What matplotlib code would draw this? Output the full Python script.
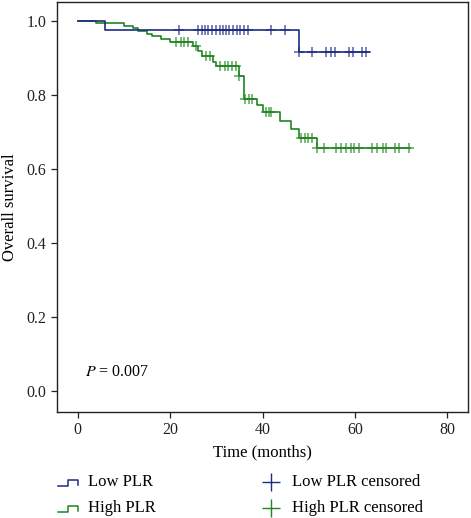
import matplotlib
matplotlib.use('Agg')
import matplotlib.pyplot as plt
import numpy as np
from matplotlib.lines import Line2D

plt.rcParams['font.family'] = ['Liberation Serif', 'DejaVu Serif']

# step curves: (time in months, survival after the drop)
low_times = [0, 6, 48]
low_surv = [1.0, 0.975, 0.915]
low_end = 63.0
low_censored = [22.0, 26.0, 26.8, 27.6, 28.3, 29.1, 29.9, 30.7, 31.4, 32.1, 32.8,
                33.6, 34.4, 35.1, 35.9, 36.8, 41.8, 44.9,
                48.0, 50.8, 53.7, 54.8, 55.7, 58.7, 59.7, 61.6, 62.5]

high_times = [0, 4, 10, 12, 13, 15, 16, 18, 20, 25, 26, 27, 29.2, 30, 35, 35.9,
              38.9, 40.0, 43.8, 46.2, 47.8, 51.7]
high_surv = [1.0, 0.993, 0.986, 0.979, 0.972, 0.964, 0.957, 0.950, 0.942, 0.930,
             0.918, 0.903, 0.889, 0.877, 0.850, 0.789, 0.772, 0.752, 0.729, 0.706,
             0.683, 0.655]
high_end = 72.0
high_censored = [21.3, 22.4, 23.1, 23.8, 25.5, 27.8, 28.6, 30.8, 31.8, 32.6, 33.5,
                 34.3, 35.0, 36.3, 37.0, 37.8, 40.8, 41.3, 41.9, 48.3, 49.2, 49.9,
                 50.7, 51.9, 53.3, 55.9, 57.0, 58.0, 59.1, 59.8, 60.9, 63.8, 64.9,
                 66.0, 66.8, 68.8, 69.5, 71.7]

blue = '#1c2c84'
green = '#1f861f'

W, H = 471, 518
fig = plt.figure(figsize=(W / 100, H / 100), dpi=100)
ax = fig.add_axes([57 / W, 1 - 412 / H, (468 - 57) / W, (412 - 2) / H])


def draw_group(times, surv, end, censored, color):
    xs = list(times) + [end]
    ys = list(surv) + [surv[-1]]
    ax.step(xs, ys, where='post', color=color, lw=1.2)
    # censor marks sit on the curve value at that time
    idx = np.searchsorted(np.array(times), np.array(censored), side='right') - 1
    cy = np.array(surv)[idx]
    ax.plot(censored, cy, '+', color=color, ms=7, mew=1.1, alpha=0.75)


draw_group(high_times, high_surv, high_end, high_censored, green)
draw_group(low_times, low_surv, low_end, low_censored, blue)

ax.set_xlim(-4.5, 84.5)
ax.set_ylim(-0.058, 1.05)
ax.set_xticks([0, 20, 40, 60, 80])
ax.set_yticks([0.0, 0.2, 0.4, 0.6, 0.8, 1.0])
ax.set_yticklabels(['0.0', '0.2', '0.4', '0.6', '0.8', '1.0'])
ax.tick_params(direction='out', length=4, width=0.9, labelsize=11.5, colors='#222222')
for sp in ax.spines.values():
    sp.set_linewidth(1.0)
    sp.set_color('#222222')
ax.set_xlabel('Time (months)', fontsize=12, labelpad=4)
ax.set_ylabel('Overall survival', fontsize=12, labelpad=6)

ax.text(1.5, 0.05, '$P$ = 0.007', fontsize=11.5, ha='left', va='center',
        math_fontfamily='stix')

# legend drawn below the axes
def fx(px):
    return px / W


def fy(py):
    return 1 - py / H


rows = [482, 508]
for r, (lab, col) in enumerate([('Low PLR', blue), ('High PLR', green)]):
    y0 = rows[r]
    fig.add_artist(Line2D([fx(58), fx(68), fx(68), fx(78), fx(78)],
                          [fy(y0 + 4), fy(y0 + 4), fy(y0 - 2), fy(y0 - 2), fy(y0 + 2.5)],
                          color=col, lw=1.1))
    fig.text(fx(88), fy(y0), lab, fontsize=12, va='center', ha='left')
    fig.add_artist(Line2D([fx(271)], [fy(y0)], marker='+', color=col, ms=13, mew=1.0))
    fig.text(fx(292), fy(y0), lab + ' censored', fontsize=12, va='center', ha='left')

fig.savefig('out.png', dpi=100)
